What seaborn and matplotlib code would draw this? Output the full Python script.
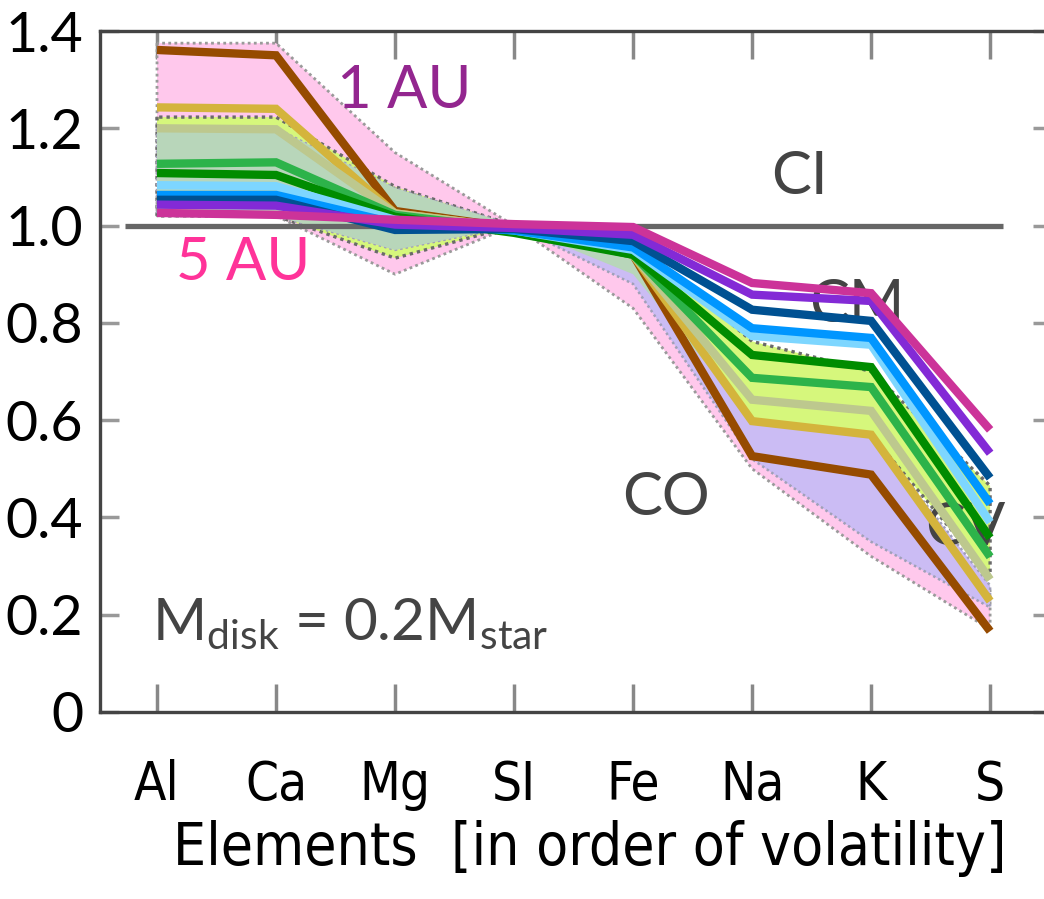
import numpy as np
import pandas as pd
import matplotlib
matplotlib.use("Agg")
import matplotlib.pyplot as plt
import seaborn as sns

# ---------------- data ----------------
elements = ["Al", "Ca", "Mg", "SI", "Fe", "Na", "K", "S"]
y_ticks = [0, 0.2, 0.4, 0.6, 0.8, 1.0, 1.2, 1.4]
y_tick_labels = ["0", "0.2", "0.4", "0.6", "0.8", "1.0", "1.2", "1.4"]

series_names = ["r1", "r2", "r3", "r4", "r5", "r6", "r7", "r8", "r9", "r10"]
series_colors = ["#964B00", "#D4B43C", "#BDC88E", "#2DB34A", "#008C00",
                 "#7DD6FF", "#0096FF", "#005192", "#832AD6", "#CC3399"]
s_r1 = [1.361, 1.350, 1.030, 0.995, 0.940, 0.526, 0.488, 0.166]
s_r2 = [1.243, 1.240, 1.025, 0.995, 0.940, 0.598, 0.570, 0.228]
s_r3 = [1.200, 1.198, 1.025, 0.995, 0.940, 0.642, 0.619, 0.272]
s_r4 = [1.127, 1.130, 1.022, 0.992, 0.940, 0.687, 0.668, 0.319]
s_r5 = [1.108, 1.104, 1.018, 0.985, 0.940, 0.734, 0.709, 0.358]
s_r6 = [1.083, 1.081, 1.012, 0.990, 0.950, 0.773, 0.755, 0.390]
s_r7 = [1.063, 1.063, 1.005, 0.990, 0.955, 0.789, 0.769, 0.428]
s_r8 = [1.053, 1.053, 0.991, 0.993, 0.968, 0.827, 0.804, 0.481]
s_r9 = [1.043, 1.041, 1.002, 0.995, 0.981, 0.858, 0.845, 0.532]
s_r10 = [1.026, 1.022, 1.012, 1.003, 0.997, 0.882, 0.861, 0.580]
series_values = [s_r1, s_r2, s_r3, s_r4, s_r5, s_r6, s_r7, s_r8, s_r9, s_r10]

# meteorite-class envelopes (lower / upper)
co_low = [1.02, 1.02, 0.900, 1.00, 0.83, 0.50, 0.32, 0.17]
co_high = [1.375, 1.375, 1.150, 1.00, 0.96, 0.60, 0.50, 0.25]
cm_low = [1.02, 1.02, 0.933, 1.00, 0.90, 0.60, 0.57, 0.28]
cm_high = [1.223, 1.223, 1.080, 1.00, 0.97, 0.762, 0.70, 0.465]
cv_low = [1.02, 1.02, 0.950, 1.00, 0.88, 0.52, 0.35, 0.215]
cv_high = [1.200, 1.200, 1.077, 1.00, 0.95, 0.60, 0.57, 0.26]
ci_level = 1.0

# ---------------- figure ----------------
sns.set_theme(style="white")
plt.rcParams["font.family"] = ["Lato", "DejaVu Sans"]
plt.rcParams["mathtext.default"] = "regular"

fig = plt.figure(figsize=(10.44, 8.99), dpi=100)
ax = fig.add_axes([100 / 1044, 187 / 899, 952 / 1044, 681 / 899])

x = np.arange(len(elements))

# bands
ax.fill_between(x, co_low, co_high, facecolor="#FFC8EC", edgecolor="#9A9A9A",
                linestyle=(0, (1, 1.2)), linewidth=2.0, zorder=1)
ax.fill_between(x, cm_low, cm_high, facecolor="#D6F77C", edgecolor="#6A6A6A",
                linestyle=(0, (1, 1.2)), linewidth=2.4, zorder=1.1)
ax.fill_between(x, cv_low, cv_high, facecolor="#CBBCF4", edgecolor="#A0A0B8",
                linestyle=(0, (1, 1.2)), linewidth=1.8, zorder=1.2)
ov_lo = np.maximum(cm_low, cv_low)
ov_hi = np.minimum(cm_high, cv_high)
ax.fill_between(x, ov_lo, ov_hi, where=ov_hi > ov_lo, interpolate=True,
                facecolor="#B8D6BA", edgecolor="none", zorder=1.3)

# CI reference line
ax.axhline(ci_level, xmin=(125 - 100) / 952, xmax=(1003 - 100) / 952,
           color="#666666", linewidth=3.8, zorder=1.4)

# class labels (beneath the lines)
txt_kw = dict(color="#444444", fontsize=43, ha="center", va="center", zorder=1.5)
ax.text(5.40, 1.10, "CI", **txt_kw)
ax.text(5.88, 0.837, "CM", **txt_kw)
ax.text(4.28, 0.44, "CO", **txt_kw)
ax.text(6.79, 0.378, "CV", **txt_kw)

# lines
rows = []
for name, vals in zip(series_names, series_values):
    for xi, v in zip(x, vals):
        rows.append({"pos": xi, "value": v, "series": name})
df = pd.DataFrame(rows)
sns.lineplot(data=df, x="pos", y="value", hue="series", hue_order=series_names,
             palette=dict(zip(series_names, series_colors)), linewidth=6.0,
             sort=False, legend=False, ax=ax, zorder=3)
for ln in ax.get_lines():
    ln.set_solid_joinstyle("miter")
    ln.set_solid_capstyle("butt")

# annotations
ax.text(2.08, 1.276, "1 AU", color="#93268F", fontsize=43, ha="center", va="center", zorder=4)
ax.text(0.72, 0.923, "5 AU", color="#FF3399", fontsize=43, ha="center", va="center", zorder=4)
ax.text(-0.04, 0.148, r"M$_{disk}$ = 0.2M$_{star}$", color="#444444", fontsize=42,
        ha="left", va="baseline", zorder=4)

# axes styling
ax.set_xlim(-0.479, 7.52)
ax.set_ylim(0, 1.4)
ax.set_xticks(x)
ax.set_xticklabels(elements)
ax.set_yticks(y_ticks)
ax.set_yticklabels(y_tick_labels)
cond_family = ["DejaVu Sans", "Lato"]
for lab in ax.get_xticklabels():
    lab.set_family(cond_family)
    lab.set_stretch("condensed")
    lab.set_weight("light")
ax.set_xlabel("Elements  [in order of volatility]", fontsize=42, labelpad=6,
              family=cond_family, stretch="condensed", weight="light", color="black")
ax.xaxis.set_label_coords((590 - 100) / 952, -0.158)
ax.set_ylabel("")

for side in ["left", "bottom", "top"]:
    ax.spines[side].set_visible(True)
    ax.spines[side].set_color("#444444")
    ax.spines[side].set_linewidth(2.4)
ax.spines["right"].set_visible(False)

ax.tick_params(axis="y", which="major", direction="in", length=14, width=2.5,
               color="#999999", left=True, right=True, labelsize=40, pad=12,
               labelcolor="black")
ax.tick_params(axis="x", which="major", direction="in", length=20, width=2.5,
               color="#888888", bottom=True, top=True, labelsize=38, pad=34,
               labelcolor="black")
ax.grid(False)

fig.savefig("out.png", dpi=100)
